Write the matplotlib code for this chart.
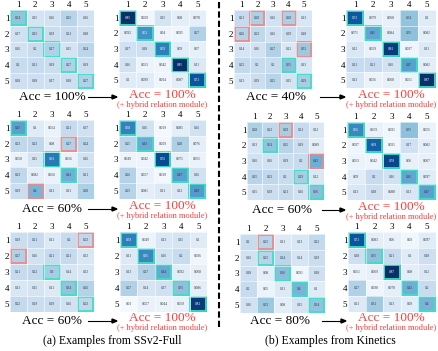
import numpy as np
import matplotlib
matplotlib.use("Agg")
import matplotlib.pyplot as plt
from matplotlib.patches import Rectangle

W, H = 438, 351
labels = ["1", "2", "3", "4", "5"]

# SSv2-Full, rows 1..3, before / after hybrid relation module
ssv2_before_1 = [[0.34, 0.15, 0.16, 0.25, 0.16],
                 [0.17, 0.25, 0.19, 0.21, 0.18],
                 [0.16, 0.2, 0.27, 0.15, 0.24],
                 [0.2, 0.21, 0.19, 0.27, 0.19],
                 [0.18, 0.18, 0.17, 0.18, 0.27]]
ssv2_after_1 = [[0.85, 0.029, 0.15, 0.080, 0.078],
                [0.092, 0.53, 0.04, 0.035, 0.27],
                [0.17, 0.18, 0.59, 0.090, 0.07],
                [0.16, 0.053, 0.042, 0.85, 0.11],
                [0.1, 0.099, 0.034, 0.087, 0.73]]
ssv2_before_2 = [[0.47, 0.1, 0.054, 0.21, 0.17],
                 [0.23, 0.23, 0.08, 0.27, 0.24],
                 [0.058, 0.15, 0.61, 0.056, 0.16],
                 [0.23, 0.082, 0.056, 0.41, 0.21],
                 [0.19, 0.4, 0.13, 0.11, 0.28]]
ssv2_after_2 = [[0.58, 0.16, 0.019, 0.085, 0.16],
                [0.25, 0.43, 0.029, 0.28, 0.076],
                [0.049, 0.042, 0.76, 0.071, 0.055],
                [0.26, 0.057, 0.019, 0.47, 0.16],
                [0.25, 0.081, 0.11, 0.12, 0.49]]
ssv2_before_3 = [[0.19, 0.21, 0.11, 0.2, 0.23],
                 [0.27, 0.16, 0.21, 0.21, 0.13],
                 [0.21, 0.22, 0.3, 0.14, 0.13],
                 [0.13, 0.15, 0.11, 0.34, 0.26],
                 [0.22, 0.19, 0.19, 0.16, 0.23]]
ssv2_after_3 = [[0.59, 0.049, 0.13, 0.15, 0.1],
                [0.11, 0.56, 0.16, 0.2, 0.036],
                [0.13, 0.27, 0.44, 0.092, 0.068],
                [0.27, 0.14, 0.17, 0.35, 0.086],
                [0.01, 0.057, 0.044, 0.059, 0.81]]

# Kinetics, rows 1..3
kin_before_1 = [[0.21, 0.28, 0.16, 0.28, 0.13],
                [0.26, 0.23, 0.16, 0.19, 0.18],
                [0.14, 0.16, 0.27, 0.12, 0.32],
                [0.22, 0.2, 0.2, 0.35, 0.13],
                [0.13, 0.19, 0.25, 0.15, 0.29]]
kin_after_1 = [[0.72, 0.079, 0.068, 0.34, 0.1],
               [0.071, 0.45, 0.084, 0.35, 0.082],
               [0.12, 0.059, 0.81, 0.037, 0.11],
               [0.21, 0.21, 0.16, 0.47, 0.082],
               [0.13, 0.056, 0.068, 0.051, 0.87]]
kin_before_2 = [[0.28, 0.23, 0.29, 0.21, 0.12],
                [0.13, 0.34, 0.25, 0.19, 0.089],
                [0.16, 0.16, 0.19, 0.2, 0.42],
                [0.25, 0.23, 0.2, 0.29, 0.12],
                [0.15, 0.19, 0.21, 0.16, 0.36]]
kin_after_2 = [[0.56, 0.059, 0.031, 0.35, 0.055],
               [0.037, 0.69, 0.031, 0.17, 0.082],
               [0.053, 0.042, 0.78, 0.06, 0.067],
               [0.09, 0.2, 0.16, 0.45, 0.097],
               [0.13, 0.18, 0.088, 0.13, 0.47]]
kin_before_3 = [[0.2, 0.25, 0.11, 0.13, 0.22],
                [0.16, 0.25, 0.24, 0.14, 0.19],
                [0.18, 0.08, 0.36, 0.031, 0.18],
                [0.2, 0.05, 0.11, 0.4, 0.1],
                [0.16, 0.32, 0.08, 0.15, 0.34]]
kin_after_3 = [[0.73, 0.083, 0.06, 0.03, 0.097],
               [0.18, 0.35, 0.21, 0.1, 0.18],
               [0.051, 0.069, 0.87, 0.08, 0.12],
               [0.27, 0.038, 0.078, 0.42, 0.2],
               [0.11, 0.31, 0.13, 0.09, 0.4]]

diag = [(i, i) for i in range(5)]
ssv2_before_1_boxes = diag
ssv2_before_2_boxes = [(0, 0), (1, 3), (2, 2), (3, 3), (4, 1)]
ssv2_before_3_boxes = [(0, 4), (1, 0), (2, 2), (3, 3), (4, 4)]
kin_before_1_boxes = [(0, 1), (0, 3), (1, 0), (2, 4), (3, 3), (4, 4)]
kin_before_2_boxes = [(0, 2), (1, 1), (2, 4), (3, 3), (4, 4)]
kin_before_3_boxes = [(0, 1), (1, 1), (2, 2), (3, 3), (4, 4)]

acc_before = ["Acc = 100%", "Acc = 60%", "Acc = 60%",
              "Acc = 40%", "Acc = 60%", "Acc = 80%"]
acc_after = "Acc = 100%"
module_note = "(+ hybrid relation module)"
captions = ["(a) Examples from SSv2-Full", "(b) Examples from Kinetics"]

plt.rcParams["font.family"] = ["Liberation Serif", "DejaVu Serif"]
fig = plt.figure(figsize=(W / 100, H / 100), dpi=100)

GOOD = "#3ee0c4"
BAD = "#f08a8a"
RED = "#ff3b3b"


def px(x, y):
    return x / W, 1 - y / H


def heatmap(box, data, boxes):
    x0, y0, x1, y1 = box
    ax = fig.add_axes([x0 / W, 1 - y1 / H, (x1 - x0) / W, (y1 - y0) / H])
    m = np.array(data)
    ax.imshow(m, cmap="Blues", vmin=0, vmax=0.85, aspect="auto")
    for i in range(5):
        for j in range(5):
            v = m[i, j]
            ax.text(j, i, f"{v:.2g}", ha="center", va="center", fontsize=2.5,
                    color="white" if v > 0.5 else "#333333")
    for i in range(6):
        ax.axhline(i - 0.5, color="white", lw=0.4)
        ax.axvline(i - 0.5, color="white", lw=0.4)
    for r, c in boxes:
        ax.add_patch(Rectangle((c - 0.45, r - 0.45), 0.9, 0.9, fill=False,
                               ec=GOOD if r == c else BAD, lw=1.3))
    ax.set_xticks(range(5))
    ax.set_yticks(range(5))
    ax.set_xticklabels(labels, fontsize=6.5)
    ax.set_yticklabels(labels, fontsize=6.5)
    ax.xaxis.tick_top()
    ax.tick_params(length=0, pad=0.5)
    for s in ax.spines.values():
        s.set_visible(False)
    return ax


panels = [
    ((10, 10, 94, 89), ssv2_before_1, ssv2_before_1_boxes),
    ((119, 10, 206, 88), ssv2_after_1, diag),
    ((10, 120, 94, 199), ssv2_before_2, ssv2_before_2_boxes),
    ((119, 120, 206, 199), ssv2_after_2, diag),
    ((10, 232, 94, 312), ssv2_before_3, ssv2_before_3_boxes),
    ((120, 232, 207, 312), ssv2_after_3, diag),
    ((234, 10, 312, 89), kin_before_1, kin_before_1_boxes),
    ((346, 10, 436, 88), kin_after_1, diag),
    ((247, 122, 324, 200), kin_before_2, kin_before_2_boxes),
    ((347, 122, 436, 200), kin_after_2, diag),
    ((240, 234, 325, 313), kin_before_3, kin_before_3_boxes),
    ((348, 232, 436, 312), kin_after_3, diag),
]
for box, data, boxes in panels:
    heatmap(box, data, boxes)

# accuracy texts and arrows
left_acc_pos = [(52, 97), (52, 209), (52, 321), (276, 97), (282, 210), (280, 321)]
right_acc_pos = [(162, 95), (162, 206), (162, 318), (391, 95), (391, 207), (391, 318)]
arrows = [(88, 117, 97), (88, 117, 209), (88, 117, 321),
          (320, 345, 97), (322, 345, 210), (322, 346, 321)]

for (x, y), t in zip(left_acc_pos, acc_before):
    fig.text(*px(x, y), t, ha="center", va="center", fontsize=9.5)
for x, y in right_acc_pos:
    fig.text(*px(x, y), acc_after, ha="center", va="center", fontsize=9.5, color=RED)
    fig.text(*px(x, y + 10), module_note, ha="center", va="center", fontsize=6, color=RED)
for xa, xb, y in arrows:
    fig.add_artist(plt.Line2D([xa / W, xb / W - 0.008], [1 - y / H] * 2, color="black", lw=0.8))
    fig.patches.append(plt.Polygon([px(xb, y), px(xb - 5, y - 2), px(xb - 5, y + 2)],
                                   closed=True, color="black", transform=fig.transFigure,
                                   figure=fig))

# dashed separator
fig.add_artist(plt.Line2D([219 / W, 219 / W], [1 - 2 / H, 1 - 328 / H], color="black",
                          lw=1.5, ls=(0, (3, 1.5))))

fig.text(*px(112, 341), captions[0], ha="center", va="center", fontsize=8.5)
fig.text(*px(330, 341), captions[1], ha="center", va="center", fontsize=8.5)

fig.savefig("out.png", dpi=100)
